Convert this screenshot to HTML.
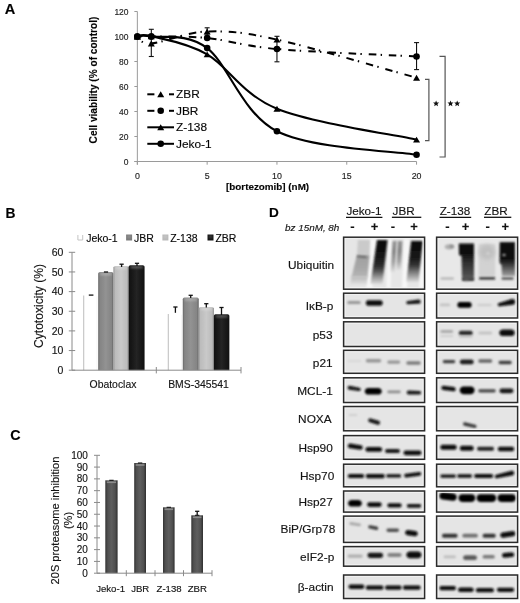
<!DOCTYPE html>
<html><head><meta charset="utf-8"><style>
html,body{margin:0;padding:0;background:#fff;}
svg{display:block;filter:grayscale(1);}
text{font-family:"Liberation Sans",sans-serif;stroke:currentColor;}
text{stroke:#222;stroke-width:0.15px;}
</style></head><body>
<svg width="520" height="603" viewBox="0 0 520 603" font-family="Liberation Sans, sans-serif">
<rect x="0" y="0" width="520" height="603" fill="#fff"/>
<text x="4.8" y="14.3" font-size="14.6" text-anchor="start" font-weight="bold" fill="#000" >A</text>
<g stroke="#9a9a9a" stroke-width="1" fill="none">
<line x1="137.35" y1="11.5" x2="137.35" y2="164.7"/>
<line x1="134.35" y1="161.5" x2="416.55000000000007" y2="161.5"/>
<line x1="134.35" y1="161.5" x2="137.35" y2="161.5"/>
<line x1="134.35" y1="136.5" x2="137.35" y2="136.5"/>
<line x1="134.35" y1="111.5" x2="137.35" y2="111.5"/>
<line x1="134.35" y1="86.5" x2="137.35" y2="86.5"/>
<line x1="134.35" y1="61.5" x2="137.35" y2="61.5"/>
<line x1="134.35" y1="36.5" x2="137.35" y2="36.5"/>
<line x1="134.35" y1="11.5" x2="137.35" y2="11.5"/>
<line x1="137.35" y1="161.5" x2="137.35" y2="164.7"/>
<line x1="207.15" y1="161.5" x2="207.15" y2="164.7"/>
<line x1="276.95000000000005" y1="161.5" x2="276.95000000000005" y2="164.7"/>
<line x1="346.75" y1="161.5" x2="346.75" y2="164.7"/>
<line x1="416.55000000000007" y1="161.5" x2="416.55000000000007" y2="164.7"/>
</g>
<text transform="translate(128.5,164.95) scale(0.9,1)" font-size="9.4" text-anchor="end" fill="#222" >0</text>
<text transform="translate(128.5,139.95) scale(0.9,1)" font-size="9.4" text-anchor="end" fill="#222" >20</text>
<text transform="translate(128.5,114.95) scale(0.9,1)" font-size="9.4" text-anchor="end" fill="#222" >40</text>
<text transform="translate(128.5,89.95) scale(0.9,1)" font-size="9.4" text-anchor="end" fill="#222" >60</text>
<text transform="translate(128.5,64.95) scale(0.9,1)" font-size="9.4" text-anchor="end" fill="#222" >80</text>
<text transform="translate(128.5,39.95) scale(0.9,1)" font-size="9.4" text-anchor="end" fill="#222" >100</text>
<text transform="translate(128.5,14.95) scale(0.9,1)" font-size="9.4" text-anchor="end" fill="#222" >120</text>
<text transform="translate(137.35,178.8) scale(0.93,1)" font-size="9.5" text-anchor="middle" fill="#222" >0</text>
<text transform="translate(207.15,178.8) scale(0.93,1)" font-size="9.5" text-anchor="middle" fill="#222" >5</text>
<text transform="translate(276.95000000000005,178.8) scale(0.93,1)" font-size="9.5" text-anchor="middle" fill="#222" >10</text>
<text transform="translate(346.75,178.8) scale(0.93,1)" font-size="9.5" text-anchor="middle" fill="#222" >15</text>
<text transform="translate(416.55000000000007,178.8) scale(0.93,1)" font-size="9.5" text-anchor="middle" fill="#222" >20</text>
<text x="226.0" y="189.6" font-size="9.85" text-anchor="start" font-weight="bold" fill="#000" >[bortezomib] (nM)</text>
<text transform="translate(96.6,80) rotate(-90)" x="0" y="0" font-size="10.1" font-weight="bold" text-anchor="middle">Cell viability (% of control)</text>
<g stroke="#111" stroke-width="1.1"><line x1="151.31" y1="29.3" x2="151.31" y2="56.5"/><line x1="148.81" y1="29.3" x2="153.81" y2="29.3"/><line x1="148.81" y1="56.5" x2="153.81" y2="56.5"/></g>
<g stroke="#111" stroke-width="1.1"><line x1="207.15" y1="27.8" x2="207.15" y2="35"/><line x1="204.65" y1="27.8" x2="209.65" y2="27.8"/><line x1="204.65" y1="35" x2="209.65" y2="35"/></g>
<g stroke="#111" stroke-width="1.1"><line x1="276.95000000000005" y1="36.3" x2="276.95000000000005" y2="61.8"/><line x1="274.45000000000005" y1="36.3" x2="279.45000000000005" y2="36.3"/><line x1="274.45000000000005" y1="61.8" x2="279.45000000000005" y2="61.8"/></g>
<g stroke="#111" stroke-width="1.1"><line x1="416.55000000000007" y1="42.6" x2="416.55000000000007" y2="69.6"/><line x1="414.05000000000007" y1="42.6" x2="419.05000000000007" y2="42.6"/><line x1="414.05000000000007" y1="69.6" x2="419.05000000000007" y2="69.6"/></g>
<path d="M137.35,36.50 C139.68,36.50 139.68,36.25 151.31,36.50 C162.94,36.75 186.21,35.92 207.15,38.00 C228.09,40.08 242.05,45.92 276.95,49.00 C311.85,52.08 393.28,55.25 416.55,56.50" fill="none" stroke="#000" stroke-width="2" stroke-dasharray="7.5,4.2,1.4,7.0" stroke-dashoffset="8.8"/>
<path d="M137.35,36.50 C139.68,37.67 139.68,44.33 151.31,43.50 C162.94,42.67 186.21,32.15 207.15,31.50 C228.09,30.85 242.05,31.92 276.95,39.62 C311.85,47.33 393.28,71.40 416.55,77.75" fill="none" stroke="#000" stroke-width="2" stroke-dasharray="7.5,4.2,1.4,7.0" stroke-dashoffset="4.9"/>
<path d="M137.35,36.50 C139.68,36.50 139.68,34.56 151.31,36.50 C162.94,38.44 186.21,32.33 207.15,48.12 C228.09,63.92 242.05,113.48 276.95,131.25 C311.85,149.02 393.28,150.83 416.55,154.75" fill="none" stroke="#000" stroke-width="2.1"/>
<path d="M137.35,36.50 C139.68,36.46 139.68,33.27 151.31,36.25 C162.94,39.23 186.21,42.29 207.15,54.38 C228.09,66.46 242.05,94.54 276.95,108.75 C311.85,122.96 393.28,134.48 416.55,139.62" fill="none" stroke="#000" stroke-width="2.1"/>
<circle cx="137.35" cy="36.50" r="3.3" fill="#000"/>
<circle cx="151.31" cy="36.50" r="3.3" fill="#000"/>
<circle cx="207.15" cy="48.12" r="3.3" fill="#000"/>
<circle cx="276.95" cy="131.25" r="3.3" fill="#000"/>
<circle cx="416.55" cy="154.75" r="3.3" fill="#000"/>
<circle cx="137.35" cy="36.50" r="3.3" fill="#000"/>
<circle cx="151.31" cy="36.50" r="3.3" fill="#000"/>
<circle cx="207.15" cy="38.00" r="3.3" fill="#000"/>
<circle cx="276.95" cy="49.00" r="3.3" fill="#000"/>
<circle cx="416.55" cy="56.50" r="3.3" fill="#000"/>
<path d="M133.85,39.48 L140.85,39.48 L137.35,33.52 Z" fill="#000"/>
<path d="M147.81,39.23 L154.81,39.23 L151.31,33.27 Z" fill="#000"/>
<path d="M203.65,57.35 L210.65,57.35 L207.15,51.40 Z" fill="#000"/>
<path d="M273.45,111.72 L280.45,111.72 L276.95,105.78 Z" fill="#000"/>
<path d="M413.05,142.60 L420.05,142.60 L416.55,136.65 Z" fill="#000"/>
<path d="M133.85,39.48 L140.85,39.48 L137.35,33.52 Z" fill="#000"/>
<path d="M147.81,46.48 L154.81,46.48 L151.31,40.52 Z" fill="#000"/>
<path d="M203.65,34.48 L210.65,34.48 L207.15,28.52 Z" fill="#000"/>
<path d="M273.45,42.60 L280.45,42.60 L276.95,36.65 Z" fill="#000"/>
<path d="M413.05,80.72 L420.05,80.72 L416.55,74.78 Z" fill="#000"/>
<line x1="147.3" y1="94.3" x2="154.4" y2="94.3" stroke="#000" stroke-width="2"/>
<line x1="169.0" y1="94.3" x2="174.0" y2="94.3" stroke="#000" stroke-width="2"/>
<path d="M157.20,97.27 L164.20,97.27 L160.70,91.33 Z" fill="#000"/>
<text transform="translate(176.0,98.3) scale(1.05,1)" font-size="11.3" text-anchor="start" fill="#000" >ZBR</text>
<line x1="147.3" y1="110.8" x2="154.4" y2="110.8" stroke="#000" stroke-width="2"/>
<line x1="169.0" y1="110.8" x2="174.0" y2="110.8" stroke="#000" stroke-width="2"/>
<circle cx="160.70" cy="110.80" r="3.3" fill="#000"/>
<text transform="translate(176.0,114.8) scale(1.05,1)" font-size="11.3" text-anchor="start" fill="#000" >JBR</text>
<line x1="147.3" y1="127.3" x2="174.0" y2="127.3" stroke="#000" stroke-width="2"/>
<path d="M157.20,130.28 L164.20,130.28 L160.70,124.33 Z" fill="#000"/>
<text transform="translate(176.0,131.3) scale(1.05,1)" font-size="11.3" text-anchor="start" fill="#000" >Z-138</text>
<line x1="147.3" y1="143.8" x2="174.0" y2="143.8" stroke="#000" stroke-width="2"/>
<circle cx="160.70" cy="143.80" r="3.3" fill="#000"/>
<text transform="translate(176.0,147.8) scale(1.05,1)" font-size="11.3" text-anchor="start" fill="#000" >Jeko-1</text>
<g stroke="#555" stroke-width="1.2" fill="none">
<path d="M425.0,79.4 H428.9 V140.6 H425.0"/>
<path d="M439.5,56.4 H445.1 V157.0 H439.5"/>
</g>
<polygon points="436.10,100.40 436.95,102.43 439.14,102.61 437.48,104.05 437.98,106.19 436.10,105.05 434.22,106.19 434.72,104.05 433.06,102.61 435.25,102.43" fill="#111"/>
<polygon points="450.50,100.40 451.35,102.43 453.54,102.61 451.88,104.05 452.38,106.19 450.50,105.05 448.62,106.19 449.12,104.05 447.46,102.61 449.65,102.43" fill="#111"/>
<polygon points="457.20,100.40 458.05,102.43 460.24,102.61 458.58,104.05 459.08,106.19 457.20,105.05 455.32,106.19 455.82,104.05 454.16,102.61 456.35,102.43" fill="#111"/>
<text x="5.6" y="217.6" font-size="13.8" text-anchor="start" font-weight="bold" fill="#000" >B</text>
<path d="M77.9,235 V240 H82.7 V235" fill="none" stroke="#c4c4c4" stroke-width="1"/>
<text x="86.2" y="241.5" font-size="10.5" text-anchor="start" fill="#000" >Jeko-1</text>
<rect x="126.1" y="234.5" width="6" height="6" fill="#7c7c7c"/>
<rect x="127.6" y="235.8" width="3" height="1.6" fill="#fff" opacity="0.3" filter="url(#bl)"/>
<text x="134.0" y="241.5" font-size="10.5" text-anchor="start" fill="#000" >JBR</text>
<rect x="162.4" y="234.5" width="6" height="6" fill="#bababa"/>
<rect x="163.9" y="235.8" width="3" height="1.6" fill="#fff" opacity="0.3" filter="url(#bl)"/>
<text x="170.2" y="241.5" font-size="10.5" text-anchor="start" fill="#000" >Z-138</text>
<rect x="207.5" y="234.5" width="6" height="6" fill="#151515"/>
<rect x="209.0" y="235.8" width="3" height="1.6" fill="#fff" opacity="0.3" filter="url(#bl)"/>
<text x="215.4" y="241.5" font-size="10.5" text-anchor="start" fill="#000" >ZBR</text>
<defs>
<linearGradient id="bg_e" x1="0" x2="1" y1="0" y2="0"><stop offset="0" stop-color="#000" stop-opacity="0.25"/><stop offset="0.12" stop-color="#000" stop-opacity="0.05"/><stop offset="0.5" stop-color="#fff" stop-opacity="0.06"/><stop offset="0.88" stop-color="#000" stop-opacity="0.05"/><stop offset="1" stop-color="#000" stop-opacity="0.3"/></linearGradient>
<linearGradient id="bg_c" x1="0" x2="1" y1="0" y2="0"><stop offset="0" stop-color="#000" stop-opacity="0.35"/><stop offset="0.15" stop-color="#000" stop-opacity="0.08"/><stop offset="0.5" stop-color="#fff" stop-opacity="0.06"/><stop offset="0.85" stop-color="#000" stop-opacity="0.08"/><stop offset="1" stop-color="#000" stop-opacity="0.4"/></linearGradient>
<filter id="bl" filterUnits="userSpaceOnUse" x="0" y="0" width="520" height="603"><feGaussianBlur stdDeviation="0.85"/></filter>
<filter id="bl2" filterUnits="userSpaceOnUse" x="0" y="0" width="520" height="603"><feGaussianBlur stdDeviation="1.3"/></filter>
<filter id="bls" filterUnits="userSpaceOnUse" x="0" y="0" width="520" height="603"><feGaussianBlur stdDeviation="1.2"/></filter>
<filter id="bl3" filterUnits="userSpaceOnUse" x="0" y="0" width="520" height="603"><feGaussianBlur stdDeviation="2.2"/></filter>
</defs>
<rect x="83.4" y="294.2" width="14.799999999999997" height="76.0" fill="#fff"/>
<line x1="83.7" y1="295.5" x2="83.7" y2="370.2" stroke="#c2c2c2" stroke-width="1.1"/>
<line x1="97.0" y1="296.2" x2="97.0" y2="370.2" stroke="#f2f2f2" stroke-width="0.8"/>
<path d="M98.2,370.2 V273.70000000000005 Q98.2,272.1 99.8,272.1 H111.80000000000001 Q113.4,272.1 113.4,273.70000000000005 V370.2 Z" fill="#8c8c8c"/>
<rect x="98.2" y="273.1" width="15.200000000000003" height="97.09999999999997" fill="url(#bg_e)"/>
<rect x="100.0" y="273.3" width="11.600000000000003" height="1.8" fill="#fff" opacity="0.35" filter="url(#bl)"/>
<path d="M113.4,370.2 V267.6 Q113.4,266.0 115.0,266.0 H127.1 Q128.7,266.0 128.7,267.6 V370.2 Z" fill="#c6c6c6"/>
<rect x="113.4" y="267.0" width="15.299999999999983" height="103.19999999999999" fill="url(#bg_e)"/>
<rect x="115.2" y="267.2" width="11.699999999999983" height="1.8" fill="#fff" opacity="0.35" filter="url(#bl)"/>
<path d="M128.7,370.2 V266.8 Q128.7,265.2 130.29999999999998,265.2 H142.9 Q144.5,265.2 144.5,266.8 V370.2 Z" fill="#161616"/>
<rect x="128.7" y="266.2" width="15.800000000000011" height="104.0" fill="url(#bg_e)"/>
<rect x="130.5" y="266.4" width="12.200000000000012" height="1.8" fill="#fff" opacity="0.35" filter="url(#bl)"/>
<rect x="168.0" y="312.8" width="14.800000000000011" height="57.39999999999998" fill="#fff"/>
<line x1="168.3" y1="314.1" x2="168.3" y2="370.2" stroke="#c2c2c2" stroke-width="1.1"/>
<line x1="181.60000000000002" y1="314.8" x2="181.60000000000002" y2="370.2" stroke="#f2f2f2" stroke-width="0.8"/>
<path d="M182.8,370.2 V299.20000000000005 Q182.8,297.6 184.4,297.6 H197.1 Q198.7,297.6 198.7,299.20000000000005 V370.2 Z" fill="#8c8c8c"/>
<rect x="182.8" y="298.6" width="15.899999999999977" height="71.59999999999997" fill="url(#bg_e)"/>
<rect x="184.60000000000002" y="298.8" width="12.299999999999978" height="1.8" fill="#fff" opacity="0.35" filter="url(#bl)"/>
<path d="M198.7,370.2 V308.5 Q198.7,306.9 200.29999999999998,306.9 H212.3 Q213.9,306.9 213.9,308.5 V370.2 Z" fill="#c6c6c6"/>
<rect x="198.7" y="307.9" width="15.200000000000017" height="62.30000000000001" fill="url(#bg_e)"/>
<rect x="200.5" y="308.09999999999997" width="11.600000000000017" height="1.8" fill="#fff" opacity="0.35" filter="url(#bl)"/>
<path d="M213.9,370.2 V315.90000000000003 Q213.9,314.3 215.5,314.3 H227.70000000000002 Q229.3,314.3 229.3,315.90000000000003 V370.2 Z" fill="#161616"/>
<rect x="213.9" y="315.3" width="15.400000000000006" height="54.89999999999998" fill="url(#bg_e)"/>
<rect x="215.70000000000002" y="315.5" width="11.800000000000006" height="1.8" fill="#fff" opacity="0.35" filter="url(#bl)"/>
<g stroke="#111" stroke-width="1.3"><line x1="91.1" y1="295.1" x2="91.1" y2="295.1"/><line x1="88.8" y1="295.1" x2="93.39999999999999" y2="295.1"/></g>
<g stroke="#111" stroke-width="1.3"><line x1="106.0" y1="272.0" x2="106.0" y2="272.0"/><line x1="103.9" y1="272.0" x2="108.1" y2="272.0"/></g>
<g stroke="#111" stroke-width="1.3"><line x1="121.6" y1="264.2" x2="121.6" y2="267"/><line x1="119.5" y1="264.2" x2="123.69999999999999" y2="264.2"/></g>
<g stroke="#111" stroke-width="1.3"><line x1="137.0" y1="263.3" x2="137.0" y2="266"/><line x1="134.9" y1="263.3" x2="139.1" y2="263.3"/></g>
<g stroke="#111" stroke-width="1.3"><line x1="175.4" y1="307.0" x2="175.4" y2="312.8"/><line x1="173.3" y1="307.0" x2="177.5" y2="307.0"/></g>
<g stroke="#111" stroke-width="1.3"><line x1="190.7" y1="295.3" x2="190.7" y2="298"/><line x1="188.6" y1="295.3" x2="192.79999999999998" y2="295.3"/></g>
<g stroke="#111" stroke-width="1.3"><line x1="206.3" y1="303.7" x2="206.3" y2="307.5"/><line x1="204.20000000000002" y1="303.7" x2="208.4" y2="303.7"/></g>
<g stroke="#111" stroke-width="1.3"><line x1="221.5" y1="307.5" x2="221.5" y2="315"/><line x1="219.4" y1="307.5" x2="223.6" y2="307.5"/></g>
<g stroke="#8a8a8a" stroke-width="1" fill="none">
<line x1="72.0" y1="252.29999999999998" x2="72.0" y2="370.2"/>
<line x1="72.0" y1="370.2" x2="241.0" y2="370.2"/>
<line x1="68.8" y1="370.2" x2="75.2" y2="370.2"/>
<line x1="68.8" y1="350.55" x2="75.2" y2="350.55"/>
<line x1="68.8" y1="330.9" x2="75.2" y2="330.9"/>
<line x1="68.8" y1="311.25" x2="75.2" y2="311.25"/>
<line x1="68.8" y1="291.59999999999997" x2="75.2" y2="291.59999999999997"/>
<line x1="68.8" y1="271.95" x2="75.2" y2="271.95"/>
<line x1="68.8" y1="252.29999999999998" x2="75.2" y2="252.29999999999998"/>
<line x1="156.3" y1="367.0" x2="156.3" y2="373.4"/>
<line x1="241.0" y1="367.0" x2="241.0" y2="373.4"/>
</g>
<text x="63.4" y="373.9" font-size="10.5" text-anchor="end" fill="#111" >0</text>
<text x="63.4" y="354.25" font-size="10.5" text-anchor="end" fill="#111" >10</text>
<text x="63.4" y="334.59999999999997" font-size="10.5" text-anchor="end" fill="#111" >20</text>
<text x="63.4" y="314.95" font-size="10.5" text-anchor="end" fill="#111" >30</text>
<text x="63.4" y="295.29999999999995" font-size="10.5" text-anchor="end" fill="#111" >40</text>
<text x="63.4" y="275.65" font-size="10.5" text-anchor="end" fill="#111" >50</text>
<text x="63.4" y="255.99999999999997" font-size="10.5" text-anchor="end" fill="#111" >60</text>
<text x="113.0" y="387.9" font-size="10.4" text-anchor="middle" fill="#111" >Obatoclax</text>
<text x="198.5" y="387.9" font-size="10.4" text-anchor="middle" fill="#111" >BMS-345541</text>
<text transform="translate(43.4,306) rotate(-90)" font-size="12.1" text-anchor="middle" fill="#111">Cytotoxicity (%)</text>
<text x="10.2" y="439.7" font-size="14.3" text-anchor="start" font-weight="bold" fill="#000" >C</text>
<defs><linearGradient id="cbar" x1="0" x2="1" y1="0" y2="0"><stop offset="0" stop-color="#333"/><stop offset="0.2" stop-color="#505050"/><stop offset="0.5" stop-color="#5e5e5e"/><stop offset="0.8" stop-color="#505050"/><stop offset="1" stop-color="#2e2e2e"/></linearGradient></defs>
<rect x="105.3" y="480.3" width="12.299999999999997" height="92.90000000000003" fill="url(#cbar)"/>
<rect x="106.8" y="481.5" width="9.299999999999997" height="1.6" fill="#9a9a9a" opacity="0.8"/>
<line x1="109.24999999999999" y1="480.3" x2="113.64999999999999" y2="480.3" stroke="#111" stroke-width="1.1"/>
<rect x="134.2" y="463.0" width="11.800000000000011" height="110.20000000000005" fill="url(#cbar)"/>
<rect x="135.7" y="464.2" width="8.800000000000011" height="1.6" fill="#9a9a9a" opacity="0.8"/>
<line x1="137.9" y1="463.0" x2="142.29999999999998" y2="463.0" stroke="#111" stroke-width="1.1"/>
<rect x="163.0" y="507.3" width="11.599999999999994" height="65.90000000000003" fill="url(#cbar)"/>
<rect x="164.5" y="508.5" width="8.599999999999994" height="1.6" fill="#9a9a9a" opacity="0.8"/>
<line x1="166.60000000000002" y1="507.3" x2="171.0" y2="507.3" stroke="#111" stroke-width="1.1"/>
<rect x="191.3" y="515.3" width="11.699999999999989" height="57.90000000000009" fill="url(#cbar)"/>
<rect x="192.8" y="516.5" width="8.699999999999989" height="1.6" fill="#9a9a9a" opacity="0.8"/>
<line x1="194.95000000000002" y1="515.3" x2="199.35" y2="515.3" stroke="#111" stroke-width="1.1"/>
<g stroke="#111" stroke-width="1.3"><line x1="197.2" y1="511.3" x2="197.2" y2="515.3"/><line x1="195.1" y1="511.3" x2="199.29999999999998" y2="511.3"/></g>
<g stroke="#8a8a8a" stroke-width="1" fill="none">
<line x1="97.0" y1="455.30000000000007" x2="97.0" y2="573.2"/>
<line x1="97.0" y1="573.2" x2="212.0" y2="573.2"/>
<line x1="94.0" y1="573.2" x2="100.0" y2="573.2"/>
<line x1="94.0" y1="561.4100000000001" x2="100.0" y2="561.4100000000001"/>
<line x1="94.0" y1="549.62" x2="100.0" y2="549.62"/>
<line x1="94.0" y1="537.83" x2="100.0" y2="537.83"/>
<line x1="94.0" y1="526.0400000000001" x2="100.0" y2="526.0400000000001"/>
<line x1="94.0" y1="514.25" x2="100.0" y2="514.25"/>
<line x1="94.0" y1="502.46000000000004" x2="100.0" y2="502.46000000000004"/>
<line x1="94.0" y1="490.6700000000001" x2="100.0" y2="490.6700000000001"/>
<line x1="94.0" y1="478.88000000000005" x2="100.0" y2="478.88000000000005"/>
<line x1="94.0" y1="467.09000000000003" x2="100.0" y2="467.09000000000003"/>
<line x1="94.0" y1="455.30000000000007" x2="100.0" y2="455.30000000000007"/>
<line x1="126.3" y1="570.2" x2="126.3" y2="576.2"/>
<line x1="155.0" y1="570.2" x2="155.0" y2="576.2"/>
<line x1="183.5" y1="570.2" x2="183.5" y2="576.2"/>
<line x1="212.0" y1="570.2" x2="212.0" y2="576.2"/>
</g>
<text x="87.9" y="576.7" font-size="10" text-anchor="end" fill="#111" >0</text>
<text x="87.9" y="564.9100000000001" font-size="10" text-anchor="end" fill="#111" >10</text>
<text x="87.9" y="553.12" font-size="10" text-anchor="end" fill="#111" >20</text>
<text x="87.9" y="541.33" font-size="10" text-anchor="end" fill="#111" >30</text>
<text x="87.9" y="529.5400000000001" font-size="10" text-anchor="end" fill="#111" >40</text>
<text x="87.9" y="517.75" font-size="10" text-anchor="end" fill="#111" >50</text>
<text x="87.9" y="505.96000000000004" font-size="10" text-anchor="end" fill="#111" >60</text>
<text x="87.9" y="494.1700000000001" font-size="10" text-anchor="end" fill="#111" >70</text>
<text x="87.9" y="482.38000000000005" font-size="10" text-anchor="end" fill="#111" >80</text>
<text x="87.9" y="470.59000000000003" font-size="10" text-anchor="end" fill="#111" >90</text>
<text x="87.9" y="458.80000000000007" font-size="10" text-anchor="end" fill="#111" >100</text>
<text x="110.6" y="591.8" font-size="9.6" text-anchor="middle" fill="#111" >Jeko-1</text>
<text x="140.2" y="591.8" font-size="9.6" text-anchor="middle" fill="#111" >JBR</text>
<text x="169.1" y="591.8" font-size="9.6" text-anchor="middle" fill="#111" >Z-138</text>
<text x="197.3" y="591.8" font-size="9.6" text-anchor="middle" fill="#111" >ZBR</text>
<text transform="translate(59.4,520.5) rotate(-90)" font-size="11.05" text-anchor="middle" fill="#111">20S proteasome inhibition</text>
<text transform="translate(72.2,520.5) rotate(-90)" font-size="11.05" text-anchor="middle" fill="#111">(%)</text>
<text x="269.0" y="217.3" font-size="13.6" text-anchor="start" font-weight="bold" fill="#000" >D</text>
<text x="346.4" y="214.9" font-size="11.7" text-anchor="start" fill="#111" >Jeko-1</text>
<line x1="346.0" y1="217.3" x2="382.4" y2="217.3" stroke="#111" stroke-width="1.3"/>
<text x="392.6" y="214.9" font-size="11.7" text-anchor="start" fill="#111" >JBR</text>
<line x1="391.9" y1="217.3" x2="421.3" y2="217.3" stroke="#111" stroke-width="1.3"/>
<text x="439.7" y="214.9" font-size="11.7" text-anchor="start" fill="#111" >Z-138</text>
<line x1="439.5" y1="217.3" x2="471.2" y2="217.3" stroke="#111" stroke-width="1.3"/>
<text x="484.3" y="214.9" font-size="11.7" text-anchor="start" fill="#111" >ZBR</text>
<line x1="484.0" y1="217.3" x2="511.3" y2="217.3" stroke="#111" stroke-width="1.3"/>
<text x="285.0" y="231.0" font-size="9.9" text-anchor="start" font-style="italic" fill="#111" >bz 15nM, 8h</text>
<text x="352.5" y="231.2" font-size="13" text-anchor="middle" font-weight="bold" fill="#111" >-</text>
<text x="374.6" y="231.2" font-size="13" text-anchor="middle" font-weight="bold" fill="#111" >+</text>
<text x="392.8" y="231.2" font-size="13" text-anchor="middle" font-weight="bold" fill="#111" >-</text>
<text x="414.0" y="231.2" font-size="13" text-anchor="middle" font-weight="bold" fill="#111" >+</text>
<text x="447.3" y="231.2" font-size="13" text-anchor="middle" font-weight="bold" fill="#111" >-</text>
<text x="465.5" y="231.2" font-size="13" text-anchor="middle" font-weight="bold" fill="#111" >+</text>
<text x="487.6" y="231.2" font-size="13" text-anchor="middle" font-weight="bold" fill="#111" >-</text>
<text x="505.3" y="231.2" font-size="13" text-anchor="middle" font-weight="bold" fill="#111" >+</text>
<rect x="343.6" y="237.2" width="81.0" height="52.0" fill="#e5e5e5"/>
<rect x="436.6" y="237.2" width="81.0" height="52.0" fill="#e5e5e5"/>
<text transform="translate(334.2,268.6) scale(1.06,1)" font-size="11.2" text-anchor="end" fill="#111" >Ubiquitin</text>
<rect x="343.6" y="293.2" width="81.0" height="24.80000000000001" fill="#e5e5e5"/>
<rect x="436.6" y="293.2" width="81.0" height="24.80000000000001" fill="#e5e5e5"/>
<text transform="translate(333.4,310.2) scale(1.06,1)" font-size="11.2" text-anchor="end" fill="#111" >I&#954;B-p</text>
<rect x="343.6" y="321.8" width="81.0" height="24.69999999999999" fill="#e5e5e5"/>
<rect x="436.6" y="321.8" width="81.0" height="24.69999999999999" fill="#e5e5e5"/>
<text transform="translate(332.5,339.1) scale(1.06,1)" font-size="11.2" text-anchor="end" fill="#111" >p53</text>
<rect x="343.6" y="350.3" width="81.0" height="23.0" fill="#e5e5e5"/>
<rect x="436.6" y="350.3" width="81.0" height="23.0" fill="#e5e5e5"/>
<text transform="translate(332.6,367.4) scale(1.06,1)" font-size="11.2" text-anchor="end" fill="#111" >p21</text>
<rect x="343.6" y="377.8" width="81.0" height="24.69999999999999" fill="#e5e5e5"/>
<rect x="436.6" y="377.8" width="81.0" height="24.69999999999999" fill="#e5e5e5"/>
<text transform="translate(332.8,394.8) scale(1.06,1)" font-size="11.2" text-anchor="end" fill="#111" >MCL-1</text>
<rect x="343.6" y="406.5" width="81.0" height="24.30000000000001" fill="#e5e5e5"/>
<rect x="436.6" y="406.5" width="81.0" height="24.30000000000001" fill="#e5e5e5"/>
<text transform="translate(331.7,422.8) scale(1.06,1)" font-size="11.2" text-anchor="end" fill="#111" >NOXA</text>
<rect x="343.6" y="435.6" width="81.0" height="23.69999999999999" fill="#e5e5e5"/>
<rect x="436.6" y="435.6" width="81.0" height="23.69999999999999" fill="#e5e5e5"/>
<text transform="translate(332.8,451.8) scale(1.06,1)" font-size="11.2" text-anchor="end" fill="#111" >Hsp90</text>
<rect x="343.6" y="464.2" width="81.0" height="22.600000000000023" fill="#e5e5e5"/>
<rect x="436.6" y="464.2" width="81.0" height="22.600000000000023" fill="#e5e5e5"/>
<text transform="translate(334.25,479.9) scale(1.06,1)" font-size="11.2" text-anchor="end" fill="#111" >Hsp70</text>
<rect x="343.6" y="491.0" width="81.0" height="21.100000000000023" fill="#e5e5e5"/>
<rect x="436.6" y="491.0" width="81.0" height="21.100000000000023" fill="#e5e5e5"/>
<text transform="translate(332.8,505.7) scale(1.06,1)" font-size="11.2" text-anchor="end" fill="#111" >Hsp27</text>
<rect x="343.6" y="516.1" width="81.0" height="26.299999999999955" fill="#e5e5e5"/>
<rect x="436.6" y="516.1" width="81.0" height="26.299999999999955" fill="#e5e5e5"/>
<text transform="translate(335.25,533.0) scale(1.06,1)" font-size="11.2" text-anchor="end" fill="#111" >BiP/Grp78</text>
<rect x="343.6" y="546.6" width="81.0" height="19.600000000000023" fill="#e5e5e5"/>
<rect x="436.6" y="546.6" width="81.0" height="19.600000000000023" fill="#e5e5e5"/>
<text transform="translate(334.25,560.5) scale(1.06,1)" font-size="11.2" text-anchor="end" fill="#111" >eIF2-p</text>
<rect x="343.6" y="575.0" width="81.0" height="23.5" fill="#e5e5e5"/>
<rect x="436.6" y="575.0" width="81.0" height="23.5" fill="#e5e5e5"/>
<text transform="translate(333.6,590.9) scale(1.06,1)" font-size="11.2" text-anchor="end" fill="#111" >&#946;-actin</text>
<polygon points="348.82,304.12 348.43,304.07 348.06,303.92 347.75,303.68 347.50,303.36 347.35,302.99 347.30,302.60 347.35,302.21 347.50,301.84 347.75,301.52 348.06,301.28 348.43,301.13 348.82,301.08 359.18,301.08 359.57,301.13 359.94,301.28 360.25,301.52 360.50,301.84 360.65,302.21 360.70,302.60 360.65,302.99 360.50,303.36 360.25,303.68 359.94,303.92 359.57,304.07 359.18,304.12" fill="rgb(150,150,150)" filter="url(#bl)"/>
<polygon points="368.57,305.77 367.86,305.68 367.19,305.40 366.61,304.96 366.17,304.39 365.89,303.72 365.80,303.00 365.89,302.28 366.17,301.61 366.61,301.04 367.19,300.60 367.86,300.32 368.57,300.23 379.93,300.23 380.64,300.32 381.31,300.60 381.89,301.04 382.33,301.61 382.61,302.28 382.70,303.00 382.61,303.72 382.33,304.39 381.89,304.96 381.31,305.40 380.64,305.68 379.93,305.77" fill="rgb(10,10,10)" filter="url(#bl)"/>
<polygon points="408.09,304.29 407.66,304.28 407.25,304.15 406.89,303.92 406.59,303.60 406.39,303.22 406.30,302.80 406.32,302.37 406.45,301.96 406.68,301.59 406.99,301.30 407.37,301.10 407.79,301.01 418.37,299.55 418.93,299.57 419.46,299.74 419.94,300.04 420.32,300.46 420.58,300.95 420.70,301.50 420.68,302.06 420.51,302.60 420.21,303.07 419.80,303.45 419.30,303.71 418.75,303.83" fill="rgb(25,25,25)" filter="url(#bl)"/>
<polygon points="441.07,306.17 440.75,306.13 440.44,306.00 440.17,305.80 439.97,305.54 439.84,305.23 439.80,304.90 439.84,304.57 439.97,304.26 440.17,304.00 440.44,303.80 440.75,303.67 441.07,303.62 448.93,303.62 449.25,303.67 449.56,303.80 449.83,304.00 450.03,304.26 450.16,304.57 450.20,304.90 450.16,305.23 450.03,305.54 449.83,305.80 449.56,306.00 449.25,306.13 448.93,306.17" fill="rgb(195,195,195)" filter="url(#bl)"/>
<polygon points="460.26,307.86 459.50,307.76 458.78,307.47 458.17,306.99 457.70,306.38 457.40,305.67 457.30,304.90 457.40,304.13 457.70,303.42 458.17,302.81 458.78,302.33 459.50,302.04 460.26,301.94 468.74,301.94 469.50,302.04 470.22,302.33 470.83,302.81 471.30,303.42 471.60,304.13 471.70,304.90 471.60,305.67 471.30,306.38 470.83,306.99 470.22,307.47 469.50,307.76 468.74,307.86" fill="rgb(5,5,5)" filter="url(#bl)"/>
<polygon points="478.57,306.27 478.25,306.23 477.94,306.10 477.67,305.90 477.47,305.64 477.34,305.33 477.30,305.00 477.34,304.67 477.47,304.36 477.67,304.10 477.94,303.90 478.25,303.77 478.57,303.73 490.43,303.73 490.75,303.77 491.06,303.90 491.33,304.10 491.53,304.36 491.66,304.67 491.70,305.00 491.66,305.33 491.53,305.64 491.33,305.90 491.06,306.10 490.75,306.23 490.43,306.27" fill="rgb(205,205,205)" filter="url(#bl)"/>
<polygon points="499.91,306.36 499.45,306.39 499.00,306.31 498.58,306.12 498.22,305.82 497.96,305.44 497.80,305.00 497.76,304.54 497.84,304.08 498.04,303.66 498.34,303.31 498.72,303.04 499.16,302.89 511.75,298.99 512.50,298.92 513.25,299.06 513.93,299.38 514.51,299.87 514.94,300.49 515.20,301.20 515.26,301.95 515.13,302.70 514.81,303.38 514.32,303.96 513.70,304.40 512.99,304.65" fill="rgb(10,10,10)" filter="url(#bl)"/>
<polygon points="441.70,332.90 441.34,332.85 441.00,332.71 440.71,332.49 440.49,332.20 440.35,331.86 440.30,331.50 440.35,331.14 440.49,330.80 440.71,330.51 441.00,330.29 441.34,330.15 441.70,330.10 451.80,330.10 452.16,330.15 452.50,330.29 452.79,330.51 453.01,330.80 453.15,331.14 453.20,331.50 453.15,331.86 453.01,332.20 452.79,332.49 452.50,332.71 452.16,332.85 451.80,332.90" fill="rgb(170,170,170)" filter="url(#bl)"/>
<polygon points="441.39,337.09 441.11,337.05 440.84,336.94 440.62,336.77 440.45,336.54 440.34,336.28 440.30,336.00 440.34,335.72 440.45,335.46 440.62,335.23 440.84,335.06 441.11,334.95 441.39,334.91 452.11,334.91 452.39,334.95 452.66,335.06 452.88,335.23 453.05,335.46 453.16,335.72 453.20,336.00 453.16,336.28 453.05,336.54 452.88,336.77 452.66,336.94 452.39,337.05 452.11,337.09" fill="rgb(205,205,205)" filter="url(#bl)"/>
<polygon points="461.14,335.44 460.53,335.36 459.97,335.12 459.48,334.75 459.11,334.27 458.88,333.70 458.80,333.10 458.88,332.50 459.11,331.93 459.48,331.45 459.97,331.08 460.53,330.84 461.14,330.76 470.36,330.76 470.97,330.84 471.53,331.08 472.02,331.45 472.39,331.93 472.62,332.50 472.70,333.10 472.62,333.70 472.39,334.27 472.02,334.75 471.53,335.12 470.97,335.36 470.36,335.44" fill="rgb(40,40,40)" filter="url(#bl)"/>
<polygon points="459.89,337.59 459.61,337.55 459.34,337.44 459.12,337.27 458.95,337.04 458.84,336.78 458.80,336.50 458.84,336.22 458.95,335.96 459.12,335.73 459.34,335.56 459.61,335.45 459.89,335.41 471.61,335.41 471.89,335.45 472.16,335.56 472.38,335.73 472.55,335.96 472.66,336.22 472.70,336.50 472.66,336.78 472.55,337.04 472.38,337.27 472.16,337.44 471.89,337.55 471.61,337.59" fill="rgb(195,195,195)" filter="url(#bl)"/>
<polygon points="479.70,334.40 479.34,334.35 479.00,334.21 478.71,333.99 478.49,333.70 478.35,333.36 478.30,333.00 478.35,332.64 478.49,332.30 478.71,332.01 479.00,331.79 479.34,331.65 479.70,331.60 490.80,331.60 491.16,331.65 491.50,331.79 491.79,332.01 492.01,332.30 492.15,332.64 492.20,333.00 492.15,333.36 492.01,333.70 491.79,333.99 491.50,334.21 491.16,334.35 490.80,334.40" fill="rgb(195,195,195)" filter="url(#bl)"/>
<polygon points="502.57,336.07 501.73,335.96 500.94,335.64 500.26,335.12 499.74,334.44 499.41,333.65 499.30,332.80 499.41,331.95 499.74,331.16 500.26,330.48 500.94,329.96 501.73,329.64 502.57,329.53 511.43,329.53 512.27,329.64 513.06,329.96 513.74,330.48 514.26,331.16 514.59,331.95 514.70,332.80 514.59,333.65 514.26,334.44 513.74,335.12 513.06,335.64 512.27,335.96 511.43,336.07" fill="rgb(10,10,10)" filter="url(#bl)"/>
<polygon points="348.89,362.09 348.61,362.05 348.34,361.94 348.12,361.77 347.95,361.54 347.84,361.28 347.80,361.00 347.84,360.72 347.95,360.46 348.12,360.23 348.34,360.06 348.61,359.95 348.89,359.91 360.11,359.91 360.39,359.95 360.66,360.06 360.88,360.23 361.05,360.46 361.16,360.72 361.20,361.00 361.16,361.28 361.05,361.54 360.88,361.77 360.66,361.94 360.39,362.05 360.11,362.09" fill="rgb(215,215,215)" filter="url(#bl)"/>
<polygon points="367.51,362.41 367.07,362.35 366.66,362.18 366.30,361.91 366.03,361.56 365.86,361.14 365.80,360.70 365.86,360.26 366.03,359.84 366.30,359.49 366.66,359.22 367.07,359.05 367.51,358.99 379.49,358.99 379.93,359.05 380.34,359.22 380.70,359.49 380.97,359.84 381.14,360.26 381.20,360.70 381.14,361.14 380.97,361.56 380.70,361.91 380.34,362.18 379.93,362.35 379.49,362.41" fill="rgb(150,150,150)" filter="url(#bl)"/>
<polygon points="389.01,363.81 388.57,363.75 388.16,363.58 387.80,363.31 387.53,362.96 387.36,362.54 387.30,362.10 387.36,361.66 387.53,361.24 387.80,360.89 388.16,360.62 388.57,360.45 389.01,360.39 398.49,360.39 398.93,360.45 399.34,360.62 399.70,360.89 399.97,361.24 400.14,361.66 400.20,362.10 400.14,362.54 399.97,362.96 399.70,363.31 399.34,363.58 398.93,363.75 398.49,363.81" fill="rgb(150,150,150)" filter="url(#bl)"/>
<polygon points="408.01,364.71 407.57,364.65 407.16,364.48 406.80,364.21 406.53,363.86 406.36,363.44 406.30,363.00 406.36,362.56 406.53,362.14 406.80,361.79 407.16,361.52 407.57,361.35 408.01,361.29 418.99,361.29 419.43,361.35 419.84,361.52 420.20,361.79 420.47,362.14 420.64,362.56 420.70,363.00 420.64,363.44 420.47,363.86 420.20,364.21 419.84,364.48 419.43,364.65 418.99,364.71" fill="rgb(125,125,125)" filter="url(#bl)"/>
<polygon points="444.51,363.31 444.07,363.25 443.66,363.08 443.30,362.81 443.03,362.46 442.86,362.04 442.80,361.60 442.86,361.16 443.03,360.74 443.30,360.39 443.66,360.12 444.07,359.95 444.51,359.89 453.49,359.89 453.93,359.95 454.34,360.12 454.70,360.39 454.97,360.74 455.14,361.16 455.20,361.60 455.14,362.04 454.97,362.46 454.70,362.81 454.34,363.08 453.93,363.25 453.49,363.31" fill="rgb(60,60,60)" filter="url(#bl)"/>
<polygon points="462.14,364.24 461.53,364.16 460.97,363.92 460.48,363.55 460.11,363.07 459.88,362.50 459.80,361.90 459.88,361.30 460.11,360.73 460.48,360.25 460.97,359.88 461.53,359.64 462.14,359.56 471.36,359.56 471.97,359.64 472.53,359.88 473.02,360.25 473.39,360.73 473.62,361.30 473.70,361.90 473.62,362.50 473.39,363.07 473.02,363.55 472.53,363.92 471.97,364.16 471.36,364.24" fill="rgb(30,30,30)" filter="url(#bl)"/>
<polygon points="480.01,362.71 479.57,362.65 479.16,362.48 478.80,362.21 478.53,361.86 478.36,361.44 478.30,361.00 478.36,360.56 478.53,360.14 478.80,359.79 479.16,359.52 479.57,359.35 480.01,359.29 490.49,359.29 490.93,359.35 491.34,359.52 491.70,359.79 491.97,360.14 492.14,360.56 492.20,361.00 492.14,361.44 491.97,361.86 491.70,362.21 491.34,362.48 490.93,362.65 490.49,362.71" fill="rgb(100,100,100)" filter="url(#bl)"/>
<polygon points="500.44,364.34 499.96,364.27 499.52,364.09 499.14,363.80 498.85,363.42 498.66,362.98 498.60,362.50 498.66,362.02 498.85,361.58 499.14,361.20 499.52,360.91 499.96,360.73 500.44,360.66 509.86,360.66 510.34,360.73 510.78,360.91 511.16,361.20 511.45,361.58 511.64,362.02 511.70,362.50 511.64,362.98 511.45,363.42 511.16,363.80 510.78,364.09 510.34,364.27 509.86,364.34" fill="rgb(60,60,60)" filter="url(#bl)"/>
<polygon points="349.21,389.66 348.72,389.51 348.29,389.24 347.94,388.86 347.70,388.41 347.58,387.91 347.60,387.40 347.75,386.91 348.02,386.48 348.40,386.13 348.85,385.89 349.35,385.77 349.86,385.79 359.40,387.77 359.79,387.89 360.14,388.11 360.43,388.42 360.62,388.78 360.71,389.19 360.70,389.60 360.58,390.00 360.36,390.35 360.06,390.63 359.69,390.82 359.29,390.92 358.87,390.90" fill="rgb(20,20,20)" filter="url(#bl)"/>
<polygon points="368.07,394.57 367.23,394.46 366.44,394.14 365.76,393.62 365.24,392.94 364.91,392.15 364.80,391.30 364.91,390.45 365.24,389.66 365.76,388.98 366.44,388.46 367.23,388.14 368.07,388.03 378.43,388.03 379.27,388.14 380.06,388.46 380.74,388.98 381.26,389.66 381.59,390.45 381.70,391.30 381.59,392.15 381.26,392.94 380.74,393.62 380.06,394.14 379.27,394.46 378.43,394.57" fill="rgb(5,5,5)" filter="url(#bl)"/>
<polygon points="388.70,393.20 388.34,393.15 388.00,393.01 387.71,392.79 387.49,392.50 387.35,392.16 387.30,391.80 387.35,391.44 387.49,391.10 387.71,390.81 388.00,390.59 388.34,390.45 388.70,390.40 399.30,390.40 399.66,390.45 400.00,390.59 400.29,390.81 400.51,391.10 400.65,391.44 400.70,391.80 400.65,392.16 400.51,392.50 400.29,392.79 400.00,393.01 399.66,393.15 399.30,393.20" fill="rgb(140,140,140)" filter="url(#bl)"/>
<polygon points="408.78,394.57 408.26,394.49 407.78,394.27 407.36,393.94 407.05,393.52 406.86,393.03 406.80,392.50 406.88,391.98 407.09,391.49 407.42,391.08 407.85,390.77 408.34,390.58 408.87,390.52 419.58,391.12 420.01,391.18 420.40,391.35 420.74,391.62 421.00,391.97 421.15,392.37 421.20,392.80 421.13,393.23 420.96,393.62 420.69,393.96 420.35,394.21 419.94,394.37 419.52,394.42" fill="rgb(20,20,20)" filter="url(#bl)"/>
<polygon points="443.15,390.01 442.61,389.87 442.12,389.59 441.73,389.19 441.44,388.70 441.30,388.16 441.30,387.60 441.45,387.06 441.73,386.57 442.12,386.18 442.61,385.89 443.15,385.75 443.71,385.75 453.85,387.09 454.39,387.23 454.88,387.51 455.27,387.91 455.56,388.40 455.70,388.94 455.70,389.50 455.55,390.04 455.27,390.53 454.88,390.92 454.39,391.21 453.85,391.35 453.29,391.35" fill="rgb(15,15,15)" filter="url(#bl)"/>
<polygon points="463.70,394.20 462.69,394.07 461.75,393.68 460.94,393.06 460.32,392.25 459.93,391.31 459.80,390.30 459.93,389.29 460.32,388.35 460.94,387.54 461.75,386.92 462.69,386.53 463.70,386.40 470.60,386.40 471.61,386.53 472.55,386.92 473.36,387.54 473.98,388.35 474.37,389.29 474.50,390.30 474.37,391.31 473.98,392.25 473.36,393.06 472.55,393.68 471.61,394.07 470.60,394.20" fill="rgb(5,5,5)" filter="url(#bl)"/>
<polygon points="479.89,392.39 479.48,392.33 479.09,392.17 478.76,391.92 478.51,391.59 478.35,391.21 478.30,390.80 478.35,390.39 478.51,390.01 478.76,389.68 479.09,389.43 479.48,389.27 479.89,389.21 494.11,389.21 494.52,389.27 494.91,389.43 495.24,389.68 495.49,390.01 495.65,390.39 495.70,390.80 495.65,391.21 495.49,391.59 495.24,391.92 494.91,392.17 494.52,392.33 494.11,392.39" fill="rgb(70,70,70)" filter="url(#bl)"/>
<polygon points="501.84,393.14 501.23,393.06 500.67,392.82 500.18,392.45 499.81,391.97 499.58,391.40 499.50,390.80 499.58,390.20 499.81,389.63 500.18,389.15 500.67,388.78 501.23,388.54 501.84,388.46 511.06,388.46 511.67,388.54 512.23,388.78 512.72,389.15 513.09,389.63 513.32,390.20 513.40,390.80 513.32,391.40 513.09,391.97 512.72,392.45 512.23,392.82 511.67,393.06 511.06,393.14" fill="rgb(20,20,20)" filter="url(#bl)"/>
<polygon points="369.64,422.33 369.16,422.11 368.75,421.77 368.45,421.34 368.26,420.85 368.21,420.32 368.30,419.80 368.52,419.32 368.86,418.91 369.29,418.61 369.78,418.42 370.31,418.37 370.83,418.46 378.66,420.87 379.14,421.09 379.55,421.43 379.85,421.86 380.04,422.35 380.09,422.88 380.00,423.40 379.78,423.88 379.44,424.29 379.01,424.59 378.52,424.78 377.99,424.83 377.47,424.74" fill="rgb(25,25,25)" filter="url(#bl)"/>
<polygon points="349.57,415.77 349.37,415.75 349.19,415.67 349.03,415.55 348.90,415.39 348.83,415.20 348.80,415.00 348.83,414.80 348.90,414.61 349.03,414.45 349.19,414.33 349.37,414.25 349.57,414.23 356.43,414.23 356.63,414.25 356.81,414.33 356.97,414.45 357.10,414.61 357.17,414.80 357.20,415.00 357.17,415.20 357.10,415.39 356.97,415.55 356.81,415.67 356.63,415.75 356.43,415.77" fill="rgb(200,200,200)" filter="url(#bl)"/>
<polygon points="464.38,425.65 463.96,425.50 463.60,425.24 463.32,424.89 463.13,424.49 463.06,424.04 463.10,423.60 463.26,423.18 463.52,422.82 463.86,422.53 464.27,422.35 464.71,422.27 465.15,422.32 475.22,424.65 475.64,424.80 476.00,425.06 476.28,425.41 476.47,425.81 476.54,426.26 476.50,426.70 476.34,427.12 476.08,427.48 475.74,427.77 475.33,427.95 474.89,428.03 474.45,427.98" fill="rgb(60,60,60)" filter="url(#bl)"/>
<polygon points="349.75,448.17 349.17,448.00 348.65,447.68 348.22,447.24 347.93,446.70 347.79,446.11 347.80,445.50 347.97,444.91 348.29,444.39 348.73,443.97 349.26,443.68 349.86,443.53 350.47,443.55 360.75,445.13 361.33,445.30 361.85,445.62 362.28,446.06 362.57,446.60 362.71,447.19 362.70,447.80 362.53,448.39 362.21,448.91 361.77,449.33 361.24,449.62 360.64,449.77 360.03,449.75" fill="rgb(15,15,15)" filter="url(#bl)"/>
<polygon points="367.74,451.74 367.13,451.66 366.57,451.42 366.08,451.05 365.71,450.57 365.48,450.00 365.40,449.40 365.48,448.80 365.71,448.23 366.08,447.75 366.57,447.38 367.13,447.14 367.74,447.06 379.86,447.06 380.47,447.14 381.03,447.38 381.52,447.75 381.89,448.23 382.12,448.80 382.20,449.40 382.12,450.00 381.89,450.57 381.52,451.05 381.03,451.42 380.47,451.66 379.86,451.74" fill="rgb(15,15,15)" filter="url(#bl)"/>
<polygon points="387.12,453.12 386.60,453.06 386.11,452.85 385.69,452.53 385.37,452.11 385.17,451.62 385.10,451.10 385.17,450.58 385.37,450.09 385.69,449.67 386.11,449.35 386.60,449.14 387.12,449.08 397.88,449.08 398.40,449.14 398.89,449.35 399.31,449.67 399.63,450.09 399.83,450.58 399.90,451.10 399.83,451.62 399.63,452.11 399.31,452.53 398.89,452.85 398.40,453.06 397.88,453.12" fill="rgb(20,20,20)" filter="url(#bl)"/>
<polygon points="405.84,455.14 405.23,455.06 404.67,454.82 404.18,454.45 403.81,453.97 403.58,453.40 403.50,452.80 403.58,452.20 403.81,451.63 404.18,451.15 404.67,450.78 405.23,450.54 405.84,450.46 419.16,450.46 419.77,450.54 420.33,450.78 420.82,451.15 421.19,451.63 421.42,452.20 421.50,452.80 421.42,453.40 421.19,453.97 420.82,454.45 420.33,454.82 419.77,455.06 419.16,455.14" fill="rgb(15,15,15)" filter="url(#bl)"/>
<polygon points="442.82,449.82 442.17,449.74 441.56,449.49 441.04,449.09 440.64,448.56 440.39,447.95 440.30,447.30 440.39,446.65 440.64,446.04 441.04,445.51 441.56,445.11 442.17,444.86 442.82,444.78 454.18,444.78 454.83,444.86 455.44,445.11 455.96,445.51 456.36,446.04 456.61,446.65 456.70,447.30 456.61,447.95 456.36,448.56 455.96,449.09 455.44,449.49 454.83,449.74 454.18,449.82" fill="rgb(10,10,10)" filter="url(#bl)"/>
<polygon points="462.32,450.82 461.67,450.74 461.06,450.49 460.54,450.09 460.14,449.56 459.89,448.95 459.80,448.30 459.89,447.65 460.14,447.04 460.54,446.51 461.06,446.11 461.67,445.86 462.32,445.78 471.18,445.78 471.83,445.86 472.44,446.11 472.96,446.51 473.36,447.04 473.61,447.65 473.70,448.30 473.61,448.95 473.36,449.56 472.96,450.09 472.44,450.49 471.83,450.74 471.18,450.82" fill="rgb(10,10,10)" filter="url(#bl)"/>
<polygon points="479.12,450.72 478.60,450.66 478.11,450.45 477.69,450.13 477.37,449.71 477.17,449.22 477.10,448.70 477.17,448.18 477.37,447.69 477.69,447.27 478.11,446.95 478.60,446.74 479.12,446.68 491.98,446.68 492.50,446.74 492.99,446.95 493.41,447.27 493.73,447.69 493.93,448.18 494.00,448.70 493.93,449.22 493.73,449.71 493.41,450.13 492.99,450.45 492.50,450.66 491.98,450.72" fill="rgb(35,35,35)" filter="url(#bl)"/>
<polygon points="500.14,451.34 499.53,451.26 498.97,451.02 498.48,450.65 498.11,450.17 497.88,449.60 497.80,449.00 497.88,448.40 498.11,447.83 498.48,447.35 498.97,446.98 499.53,446.74 500.14,446.66 511.86,446.66 512.47,446.74 513.03,446.98 513.52,447.35 513.89,447.83 514.12,448.40 514.20,449.00 514.12,449.60 513.89,450.17 513.52,450.65 513.03,451.02 512.47,451.26 511.86,451.34" fill="rgb(15,15,15)" filter="url(#bl)"/>
<polygon points="349.82,478.12 349.30,478.06 348.81,477.85 348.39,477.53 348.07,477.11 347.87,476.62 347.80,476.10 347.87,475.58 348.07,475.09 348.39,474.67 348.81,474.35 349.30,474.14 349.82,474.08 362.18,474.08 362.70,474.14 363.19,474.35 363.61,474.67 363.93,475.09 364.13,475.58 364.20,476.10 364.13,476.62 363.93,477.11 363.61,477.53 363.19,477.85 362.70,478.06 362.18,478.12" fill="rgb(15,15,15)" filter="url(#bl)"/>
<polygon points="367.95,478.25 367.39,478.18 366.88,477.96 366.43,477.62 366.09,477.18 365.87,476.66 365.80,476.10 365.87,475.54 366.09,475.03 366.43,474.58 366.88,474.24 367.39,474.02 367.95,473.95 382.65,473.95 383.21,474.02 383.73,474.24 384.17,474.58 384.51,475.03 384.73,475.54 384.80,476.10 384.73,476.66 384.51,477.18 384.17,477.62 383.73,477.96 383.21,478.18 382.65,478.25" fill="rgb(15,15,15)" filter="url(#bl)"/>
<polygon points="387.91,477.61 387.47,477.55 387.06,477.38 386.70,477.11 386.43,476.76 386.26,476.34 386.20,475.90 386.26,475.46 386.43,475.04 386.70,474.69 387.06,474.42 387.47,474.25 387.91,474.19 399.49,474.19 399.93,474.25 400.34,474.42 400.70,474.69 400.97,475.04 401.14,475.46 401.20,475.90 401.14,476.34 400.97,476.76 400.70,477.11 400.34,477.38 399.93,477.55 399.49,477.61" fill="rgb(20,20,20)" filter="url(#bl)"/>
<polygon points="406.33,477.44 405.83,477.44 405.35,477.31 404.92,477.06 404.57,476.71 404.33,476.28 404.20,475.80 404.20,475.30 404.33,474.83 404.58,474.40 404.93,474.05 405.36,473.80 405.84,473.67 419.07,471.96 419.57,471.96 420.05,472.09 420.48,472.34 420.83,472.69 421.07,473.12 421.20,473.60 421.20,474.10 421.07,474.57 420.82,475.00 420.47,475.35 420.04,475.60 419.56,475.73" fill="rgb(15,15,15)" filter="url(#bl)"/>
<polygon points="442.01,477.81 441.57,477.75 441.16,477.58 440.80,477.31 440.53,476.96 440.36,476.54 440.30,476.10 440.36,475.66 440.53,475.24 440.80,474.89 441.16,474.62 441.57,474.45 442.01,474.39 454.19,474.39 454.63,474.45 455.04,474.62 455.40,474.89 455.67,475.24 455.84,475.66 455.90,476.10 455.84,476.54 455.67,476.96 455.40,477.31 455.04,477.58 454.63,477.75 454.19,477.81" fill="rgb(15,15,15)" filter="url(#bl)"/>
<polygon points="458.91,477.71 458.47,477.65 458.06,477.48 457.70,477.21 457.43,476.86 457.26,476.44 457.20,476.00 457.26,475.56 457.43,475.14 457.70,474.79 458.06,474.52 458.47,474.35 458.91,474.29 470.29,474.29 470.73,474.35 471.14,474.52 471.50,474.79 471.77,475.14 471.94,475.56 472.00,476.00 471.94,476.44 471.77,476.86 471.50,477.21 471.14,477.48 470.73,477.65 470.29,477.71" fill="rgb(15,15,15)" filter="url(#bl)"/>
<polygon points="476.00,477.90 475.51,477.84 475.05,477.65 474.66,477.34 474.35,476.95 474.16,476.49 474.10,476.00 474.16,475.51 474.35,475.05 474.66,474.66 475.05,474.35 475.51,474.16 476.00,474.10 491.30,474.10 491.79,474.16 492.25,474.35 492.64,474.66 492.95,475.05 493.14,475.51 493.20,476.00 493.14,476.49 492.95,476.95 492.64,477.34 492.25,477.65 491.79,477.84 491.30,477.90" fill="rgb(15,15,15)" filter="url(#bl)"/>
<polygon points="496.93,478.33 496.47,478.37 496.01,478.30 495.59,478.11 495.23,477.81 494.96,477.43 494.80,477.00 494.76,476.54 494.83,476.08 495.02,475.66 495.32,475.30 495.69,475.03 496.13,474.87 511.32,470.70 511.94,470.64 512.56,470.75 513.13,471.01 513.62,471.40 513.98,471.91 514.20,472.50 514.26,473.12 514.16,473.74 513.90,474.31 513.50,474.80 512.99,475.16 512.40,475.38" fill="rgb(15,15,15)" filter="url(#bl)"/>
<polygon points="351.38,506.57 350.53,506.46 349.74,506.14 349.06,505.62 348.54,504.94 348.21,504.15 348.10,503.30 348.21,502.45 348.54,501.66 349.06,500.98 349.74,500.46 350.53,500.14 351.38,500.03 358.53,500.03 359.37,500.14 360.16,500.46 360.84,500.98 361.36,501.66 361.69,502.45 361.80,503.30 361.69,504.15 361.36,504.94 360.84,505.62 360.16,506.14 359.37,506.46 358.53,506.57" fill="rgb(5,5,5)" filter="url(#bl)"/>
<polygon points="369.44,506.94 368.83,506.86 368.27,506.62 367.78,506.25 367.41,505.77 367.18,505.20 367.10,504.60 367.18,504.00 367.41,503.43 367.78,502.95 368.27,502.58 368.83,502.34 369.44,502.26 379.36,502.26 379.97,502.34 380.53,502.58 381.02,502.95 381.39,503.43 381.62,504.00 381.70,504.60 381.62,505.20 381.39,505.77 381.02,506.25 380.53,506.62 379.97,506.86 379.36,506.94" fill="rgb(15,15,15)" filter="url(#bl)"/>
<polygon points="389.55,507.45 388.99,507.38 388.48,507.16 388.03,506.82 387.69,506.38 387.47,505.86 387.40,505.30 387.47,504.74 387.69,504.23 388.03,503.78 388.48,503.44 388.99,503.22 389.55,503.15 399.45,503.15 400.01,503.22 400.52,503.44 400.97,503.78 401.31,504.23 401.53,504.74 401.60,505.30 401.53,505.86 401.31,506.38 400.97,506.82 400.52,507.16 400.01,507.38 399.45,507.45" fill="rgb(15,15,15)" filter="url(#bl)"/>
<polygon points="408.80,507.70 408.31,507.64 407.85,507.45 407.46,507.14 407.15,506.75 406.96,506.29 406.90,505.80 406.96,505.31 407.15,504.85 407.46,504.46 407.85,504.15 408.31,503.96 408.80,503.90 419.30,503.90 419.79,503.96 420.25,504.15 420.64,504.46 420.95,504.85 421.14,505.31 421.20,505.80 421.14,506.29 420.95,506.75 420.64,507.14 420.25,507.45 419.79,507.64 419.30,507.70" fill="rgb(20,20,20)" filter="url(#bl)"/>
<polygon points="442.55,499.48 441.64,499.25 440.83,498.79 440.15,498.14 439.67,497.34 439.41,496.44 439.40,495.50 439.63,494.59 440.08,493.77 440.74,493.10 441.54,492.62 442.44,492.36 443.38,492.35 453.55,493.52 454.46,493.75 455.27,494.21 455.95,494.86 456.43,495.66 456.69,496.56 456.70,497.50 456.47,498.41 456.02,499.23 455.36,499.90 454.56,500.38 453.66,500.64 452.72,500.65" fill="rgb(5,5,5)" filter="url(#bl)"/>
<polygon points="462.40,502.00 461.39,501.87 460.45,501.48 459.64,500.86 459.02,500.05 458.63,499.11 458.50,498.10 458.63,497.09 459.02,496.15 459.64,495.34 460.45,494.72 461.39,494.33 462.40,494.20 471.40,494.20 472.41,494.33 473.35,494.72 474.16,495.34 474.78,496.15 475.17,497.09 475.30,498.10 475.17,499.11 474.78,500.05 474.16,500.86 473.35,501.48 472.41,501.87 471.40,502.00" fill="rgb(5,5,5)" filter="url(#bl)"/>
<polygon points="480.50,502.00 479.49,501.87 478.55,501.48 477.74,500.86 477.12,500.05 476.73,499.11 476.60,498.10 476.73,497.09 477.12,496.15 477.74,495.34 478.55,494.72 479.49,494.33 480.50,494.20 492.30,494.20 493.31,494.33 494.25,494.72 495.06,495.34 495.68,496.15 496.07,497.09 496.20,498.10 496.07,499.11 495.68,500.05 495.06,500.86 494.25,501.48 493.31,501.87 492.30,502.00" fill="rgb(5,5,5)" filter="url(#bl)"/>
<polygon points="501.40,502.00 500.39,501.87 499.45,501.48 498.64,500.86 498.02,500.05 497.63,499.11 497.50,498.10 497.63,497.09 498.02,496.15 498.64,495.34 499.45,494.72 500.39,494.33 501.40,494.20 512.10,494.20 513.11,494.33 514.05,494.72 514.86,495.34 515.48,496.15 515.87,497.09 516.00,498.10 515.87,499.11 515.48,500.05 514.86,500.86 514.05,501.48 513.11,501.87 512.10,502.00" fill="rgb(5,5,5)" filter="url(#bl)"/>
<polygon points="350.48,524.89 350.13,524.79 349.82,524.60 349.56,524.34 349.38,524.02 349.30,523.67 349.30,523.30 349.40,522.95 349.59,522.63 349.85,522.38 350.17,522.20 350.52,522.11 350.89,522.12 359.82,523.41 360.17,523.51 360.48,523.70 360.74,523.96 360.92,524.28 361.00,524.63 361.00,525.00 360.90,525.35 360.71,525.67 360.45,525.92 360.13,526.10 359.78,526.19 359.41,526.18" fill="rgb(170,170,170)" filter="url(#bl)"/>
<polygon points="369.64,528.62 369.22,528.47 368.85,528.22 368.55,527.89 368.36,527.48 368.27,527.05 368.30,526.60 368.44,526.18 368.69,525.81 369.03,525.51 369.43,525.32 369.87,525.23 370.32,525.26 376.86,526.58 377.28,526.73 377.65,526.98 377.95,527.31 378.14,527.72 378.23,528.15 378.20,528.60 378.06,529.02 377.81,529.39 377.47,529.69 377.07,529.88 376.63,529.97 376.18,529.94" fill="rgb(60,60,60)" filter="url(#bl)"/>
<polygon points="388.21,531.91 387.77,531.85 387.36,531.68 387.00,531.41 386.73,531.06 386.56,530.64 386.50,530.20 386.56,529.76 386.73,529.34 387.00,528.99 387.36,528.72 387.77,528.55 388.21,528.49 397.29,528.49 397.73,528.55 398.14,528.72 398.50,528.99 398.77,529.34 398.94,529.76 399.00,530.20 398.94,530.64 398.77,531.06 398.50,531.41 398.14,531.68 397.73,531.85 397.29,531.91" fill="rgb(80,80,80)" filter="url(#bl)"/>
<polygon points="407.47,535.28 406.80,535.10 406.20,534.75 405.72,534.26 405.37,533.66 405.20,532.99 405.20,532.30 405.38,531.63 405.73,531.03 406.22,530.55 406.82,530.20 407.49,530.03 408.18,530.03 415.43,531.02 416.10,531.20 416.70,531.55 417.18,532.04 417.53,532.64 417.70,533.31 417.70,534.00 417.52,534.67 417.17,535.27 416.68,535.75 416.08,536.10 415.41,536.27 414.72,536.27" fill="rgb(10,10,10)" filter="url(#bl)"/>
<polygon points="444.02,537.73 443.50,537.66 443.01,537.45 442.59,537.13 442.27,536.71 442.07,536.22 442.00,535.70 442.07,535.18 442.27,534.69 442.59,534.27 443.01,533.95 443.50,533.74 444.02,533.68 455.57,533.68 456.10,533.74 456.59,533.95 457.01,534.27 457.33,534.69 457.53,535.18 457.60,535.70 457.53,536.22 457.33,536.71 457.01,537.13 456.59,537.45 456.10,537.66 455.57,537.73" fill="rgb(50,50,50)" filter="url(#bl)"/>
<polygon points="464.14,537.54 463.66,537.47 463.22,537.29 462.84,537.00 462.55,536.62 462.36,536.18 462.30,535.70 462.36,535.22 462.55,534.78 462.84,534.40 463.22,534.11 463.66,533.93 464.14,533.86 476.06,533.86 476.54,533.93 476.98,534.11 477.36,534.40 477.65,534.78 477.84,535.22 477.90,535.70 477.84,536.18 477.65,536.62 477.36,537.00 476.98,537.29 476.54,537.47 476.06,537.54" fill="rgb(110,110,110)" filter="url(#bl)"/>
<polygon points="484.62,537.73 484.10,537.66 483.61,537.45 483.19,537.13 482.87,536.71 482.67,536.22 482.60,535.70 482.67,535.18 482.87,534.69 483.19,534.27 483.61,533.95 484.10,533.74 484.62,533.68 493.68,533.68 494.20,533.74 494.69,533.95 495.11,534.27 495.43,534.69 495.63,535.18 495.70,535.70 495.63,536.22 495.43,536.71 495.11,537.13 494.69,537.45 494.20,537.66 493.68,537.73" fill="rgb(50,50,50)" filter="url(#bl)"/>
<polygon points="503.30,537.74 502.61,537.75 501.94,537.58 501.34,537.24 500.84,536.76 500.49,536.17 500.30,535.50 500.29,534.81 500.46,534.14 500.80,533.53 501.28,533.04 501.87,532.68 502.54,532.50 512.40,531.06 513.09,531.05 513.76,531.22 514.36,531.56 514.86,532.04 515.21,532.63 515.40,533.30 515.41,533.99 515.24,534.66 514.90,535.27 514.42,535.76 513.83,536.12 513.16,536.30" fill="rgb(10,10,10)" filter="url(#bl)"/>
<polygon points="349.31,557.81 348.87,557.75 348.46,557.58 348.10,557.31 347.83,556.96 347.66,556.54 347.60,556.10 347.66,555.66 347.83,555.24 348.10,554.89 348.46,554.62 348.87,554.45 349.31,554.39 360.99,554.39 361.43,554.45 361.84,554.62 362.20,554.89 362.47,555.24 362.64,555.66 362.70,556.10 362.64,556.54 362.47,556.96 362.20,557.31 361.84,557.58 361.43,557.75 360.99,557.81" fill="rgb(175,175,175)" filter="url(#bl)"/>
<polygon points="370.15,557.95 369.46,557.86 368.82,557.59 368.28,557.17 367.86,556.62 367.59,555.99 367.50,555.30 367.59,554.61 367.86,553.97 368.28,553.43 368.82,553.01 369.46,552.74 370.15,552.65 380.45,552.65 381.14,552.74 381.77,553.01 382.32,553.43 382.74,553.97 383.01,554.61 383.10,555.30 383.01,555.99 382.74,556.62 382.32,557.17 381.77,557.59 381.14,557.86 380.45,557.95" fill="rgb(20,20,20)" filter="url(#bl)"/>
<polygon points="389.43,556.92 388.90,556.86 388.41,556.65 387.99,556.33 387.67,555.91 387.47,555.42 387.40,554.90 387.47,554.38 387.67,553.89 387.99,553.47 388.41,553.15 388.90,552.94 389.43,552.88 399.57,552.88 400.10,552.94 400.59,553.15 401.01,553.47 401.33,553.89 401.53,554.38 401.60,554.90 401.53,555.42 401.33,555.91 401.01,556.33 400.59,556.65 400.10,556.86 399.57,556.92" fill="rgb(130,130,130)" filter="url(#bl)"/>
<polygon points="409.68,558.17 408.83,558.06 408.04,557.74 407.36,557.22 406.84,556.54 406.51,555.75 406.40,554.90 406.51,554.05 406.84,553.26 407.36,552.58 408.04,552.06 408.83,551.74 409.68,551.62 418.23,551.62 419.07,551.74 419.86,552.06 420.54,552.58 421.06,553.26 421.39,554.05 421.50,554.90 421.39,555.75 421.06,556.54 420.54,557.22 419.86,557.74 419.07,558.06 418.23,558.17" fill="rgb(10,10,10)" filter="url(#bl)"/>
<polygon points="445.00,558.20 444.64,558.15 444.30,558.01 444.01,557.79 443.79,557.50 443.65,557.16 443.60,556.80 443.65,556.44 443.79,556.10 444.01,555.81 444.30,555.59 444.64,555.45 445.00,555.40 454.50,555.40 454.86,555.45 455.20,555.59 455.49,555.81 455.71,556.10 455.85,556.44 455.90,556.80 455.85,557.16 455.71,557.50 455.49,557.79 455.20,558.01 454.86,558.15 454.50,558.20" fill="rgb(190,190,190)" filter="url(#bl)"/>
<polygon points="465.44,560.04 464.83,559.96 464.27,559.72 463.78,559.35 463.41,558.87 463.18,558.30 463.10,557.70 463.18,557.10 463.41,556.53 463.78,556.05 464.27,555.68 464.83,555.44 465.44,555.36 474.66,555.36 475.27,555.44 475.83,555.68 476.32,556.05 476.69,556.53 476.92,557.10 477.00,557.70 476.92,558.30 476.69,558.87 476.32,559.35 475.83,559.72 475.27,559.96 474.66,560.04" fill="rgb(90,90,90)" filter="url(#bl)"/>
<polygon points="484.31,558.51 483.87,558.45 483.46,558.28 483.10,558.01 482.83,557.66 482.66,557.24 482.60,556.80 482.66,556.36 482.83,555.94 483.10,555.59 483.46,555.32 483.87,555.15 484.31,555.09 493.09,555.09 493.53,555.15 493.94,555.32 494.30,555.59 494.57,555.94 494.74,556.36 494.80,556.80 494.74,557.24 494.57,557.66 494.30,558.01 493.94,558.28 493.53,558.45 493.09,558.51" fill="rgb(120,120,120)" filter="url(#bl)"/>
<polygon points="504.52,557.64 503.91,557.61 503.33,557.42 502.82,557.09 502.41,556.64 502.13,556.10 502.00,555.50 502.03,554.89 502.22,554.31 502.55,553.80 503.00,553.39 503.54,553.11 504.14,552.98 511.68,552.36 512.29,552.39 512.87,552.58 513.38,552.91 513.79,553.36 514.07,553.90 514.20,554.50 514.17,555.11 513.98,555.69 513.65,556.20 513.20,556.61 512.66,556.89 512.06,557.02" fill="rgb(15,15,15)" filter="url(#bl)"/>
<polygon points="350.71,588.91 350.14,588.84 349.61,588.62 349.15,588.26 348.80,587.81 348.58,587.27 348.50,586.70 348.58,586.13 348.80,585.59 349.15,585.14 349.61,584.78 350.14,584.56 350.71,584.49 362.19,584.49 362.76,584.56 363.29,584.78 363.75,585.14 364.10,585.59 364.32,586.13 364.40,586.70 364.32,587.27 364.10,587.81 363.75,588.26 363.29,588.62 362.76,588.84 362.19,588.91" fill="rgb(10,10,10)" filter="url(#bl)"/>
<polygon points="368.01,589.81 367.44,589.74 366.91,589.52 366.45,589.16 366.10,588.71 365.88,588.17 365.80,587.60 365.88,587.03 366.10,586.49 366.45,586.04 366.91,585.68 367.44,585.46 368.01,585.39 381.29,585.39 381.86,585.46 382.39,585.68 382.85,586.04 383.20,586.49 383.42,587.03 383.50,587.60 383.42,588.17 383.20,588.71 382.85,589.16 382.39,589.52 381.86,589.74 381.29,589.81" fill="rgb(10,10,10)" filter="url(#bl)"/>
<polygon points="387.19,589.69 386.65,589.62 386.14,589.41 385.71,589.08 385.38,588.64 385.17,588.14 385.10,587.60 385.17,587.06 385.38,586.56 385.71,586.12 386.14,585.79 386.65,585.58 387.19,585.51 399.51,585.51 400.05,585.58 400.56,585.79 400.99,586.12 401.32,586.56 401.53,587.06 401.60,587.60 401.53,588.14 401.32,588.64 400.99,589.08 400.56,589.41 400.05,589.62 399.51,589.69" fill="rgb(10,10,10)" filter="url(#bl)"/>
<polygon points="404.99,589.69 404.45,589.62 403.94,589.41 403.51,589.08 403.18,588.64 402.97,588.14 402.90,587.60 402.97,587.06 403.18,586.56 403.51,586.12 403.94,585.79 404.45,585.58 404.99,585.51 418.51,585.51 419.05,585.58 419.56,585.79 419.99,586.12 420.32,586.56 420.53,587.06 420.60,587.60 420.53,588.14 420.32,588.64 419.99,589.08 419.56,589.41 419.05,589.62 418.51,589.69" fill="rgb(10,10,10)" filter="url(#bl)"/>
<polygon points="441.61,590.31 441.04,590.24 440.51,590.02 440.05,589.66 439.70,589.21 439.48,588.67 439.40,588.10 439.48,587.53 439.70,586.99 440.05,586.54 440.51,586.18 441.04,585.96 441.61,585.89 453.69,585.89 454.26,585.96 454.79,586.18 455.25,586.54 455.60,586.99 455.82,587.53 455.90,588.10 455.82,588.67 455.60,589.21 455.25,589.66 454.79,590.02 454.26,590.24 453.69,590.31" fill="rgb(10,10,10)" filter="url(#bl)"/>
<polygon points="460.21,592.01 459.64,591.94 459.11,591.72 458.65,591.36 458.30,590.91 458.08,590.37 458.00,589.80 458.08,589.23 458.30,588.69 458.65,588.24 459.11,587.88 459.64,587.66 460.21,587.59 471.49,587.59 472.06,587.66 472.59,587.88 473.05,588.24 473.40,588.69 473.62,589.23 473.70,589.80 473.62,590.37 473.40,590.91 473.05,591.36 472.59,591.72 472.06,591.94 471.49,592.01" fill="rgb(10,10,10)" filter="url(#bl)"/>
<polygon points="477.89,592.29 477.35,592.22 476.84,592.01 476.41,591.68 476.08,591.24 475.87,590.74 475.80,590.20 475.87,589.66 476.08,589.16 476.41,588.72 476.84,588.39 477.35,588.18 477.89,588.11 491.91,588.11 492.45,588.18 492.96,588.39 493.39,588.72 493.72,589.16 493.93,589.66 494.00,590.20 493.93,590.74 493.72,591.24 493.39,591.68 492.96,592.01 492.45,592.22 491.91,592.29" fill="rgb(10,10,10)" filter="url(#bl)"/>
<polygon points="498.99,591.89 498.45,591.82 497.94,591.61 497.51,591.28 497.18,590.84 496.97,590.34 496.90,589.80 496.97,589.26 497.18,588.76 497.51,588.32 497.94,587.99 498.45,587.78 498.99,587.71 512.11,587.71 512.65,587.78 513.16,587.99 513.59,588.32 513.92,588.76 514.13,589.26 514.20,589.80 514.13,590.34 513.92,590.84 513.59,591.28 513.16,591.61 512.65,591.82 512.11,591.89" fill="rgb(15,15,15)" filter="url(#bl)"/>
<defs>
<linearGradient id="u_l1b" x1="0" x2="0" y1="0" y2="1"><stop offset="0" stop-color="#8a8a8a"/><stop offset="0.15" stop-color="#a2a2a2"/><stop offset="0.6" stop-color="#a8a8a8"/><stop offset="1" stop-color="#b6b6b6"/></linearGradient>
<linearGradient id="u_l1c" x1="0" x2="0" y1="0" y2="1"><stop offset="0" stop-color="#b6b6b6"/><stop offset="1" stop-color="#e4e4e4"/></linearGradient>
<linearGradient id="u_l1" x1="0" x2="0" y1="0" y2="1"><stop offset="0" stop-color="#cacaca"/><stop offset="0.3" stop-color="#bcbcbc"/><stop offset="0.42" stop-color="#7a7a7a"/><stop offset="0.5" stop-color="#a2a2a2"/><stop offset="0.8" stop-color="#b2b2b2"/><stop offset="1" stop-color="#e2e2e2"/></linearGradient>
<linearGradient id="u_l2" x1="0" x2="0" y1="0" y2="1"><stop offset="0" stop-color="#0a0a0a"/><stop offset="0.35" stop-color="#141414"/><stop offset="0.6" stop-color="#303030"/><stop offset="0.72" stop-color="#5a5a5a"/><stop offset="0.85" stop-color="#9a9a9a"/><stop offset="1" stop-color="#dcdcdc"/></linearGradient>
<linearGradient id="u_l3" x1="0" x2="0" y1="0" y2="1"><stop offset="0" stop-color="#959595"/><stop offset="0.35" stop-color="#858585"/><stop offset="0.7" stop-color="#a4a4a4"/><stop offset="1" stop-color="#e0e0e0"/></linearGradient>
<linearGradient id="u_l4" x1="0" x2="0" y1="0" y2="1"><stop offset="0" stop-color="#0a0a0a"/><stop offset="0.4" stop-color="#161616"/><stop offset="0.6" stop-color="#383838"/><stop offset="0.75" stop-color="#777"/><stop offset="0.88" stop-color="#aaa"/><stop offset="1" stop-color="#dcdcdc"/></linearGradient>
<linearGradient id="u_r2" x1="0" x2="0" y1="0" y2="1"><stop offset="0" stop-color="#070707"/><stop offset="0.25" stop-color="#0d0d0d"/><stop offset="0.4" stop-color="#222"/><stop offset="0.6" stop-color="#363636"/><stop offset="0.85" stop-color="#4c4c4c"/><stop offset="1" stop-color="#6a6a6a"/></linearGradient>
<linearGradient id="u_r3" x1="0" x2="0" y1="0" y2="1"><stop offset="0" stop-color="#d2d2d2"/><stop offset="0.2" stop-color="#bcbcbc"/><stop offset="0.45" stop-color="#c4c4c4"/><stop offset="1" stop-color="#d6d6d6"/></linearGradient>
<linearGradient id="u_r4" x1="0" x2="0" y1="0" y2="1"><stop offset="0" stop-color="#060606"/><stop offset="0.5" stop-color="#101010"/><stop offset="0.68" stop-color="#404040"/><stop offset="1" stop-color="#a0a0a0"/></linearGradient>
<clipPath id="cl_ul"><rect x="344.3" y="237.9" width="79.6" height="50.6"/></clipPath>
<clipPath id="cl_ur"><rect x="437.3" y="237.9" width="79.6" height="50.6"/></clipPath>
</defs>
<g clip-path="url(#cl_ul)">
<rect x="344" y="237" width="81" height="52" fill="#e6e6e6"/>
<polygon points="370,239 376.5,239 372.5,288 366,288" fill="#f7f7f7" filter="url(#bl2)"/>
<polygon points="388,239 392,239 390.5,288 386.5,288" fill="#f7f7f7" filter="url(#bl2)"/>
<polygon points="404,239 409.5,239 407,288 402,288" fill="#f7f7f7" filter="url(#bl2)"/>
<polygon points="420.5,239 425,239 425,288 419,288" fill="#f7f7f7" filter="url(#bl2)"/>
<polygon points="357.8,240 370,240 369.5,255.5 357,255.5" fill="#cacaca" filter="url(#bls)"/>
<polygon points="356.8,255.5 369.5,255.5 367.5,277 351.5,277" fill="url(#u_l1b)" filter="url(#bls)"/>
<polygon points="351.5,276.5 367.5,276.5 366.5,285 350,285" fill="url(#u_l1c)" filter="url(#bls)"/>
<polygon points="377,240 387.5,240 382.5,284 370.5,284" fill="url(#u_l2)" filter="url(#bls)"/>
<polygon points="392.6,241 396.6,241 394.8,272 390.8,272" fill="url(#u_l3)" filter="url(#bls)"/>
<polygon points="397.8,241 402.4,241 400.8,270 396.3,270" fill="url(#u_l3)" filter="url(#bls)"/>
<polygon points="411.2,241 422.8,241 418.5,282 406.5,282" fill="url(#u_l4)" filter="url(#bls)"/>
</g>
<polygon points="357.73,257.06 357.53,257.02 357.34,256.92 357.19,256.78 357.07,256.61 357.01,256.41 357.00,256.20 357.04,256.00 357.14,255.81 357.28,255.66 357.46,255.54 357.66,255.48 357.86,255.47 365.77,256.14 365.97,256.18 366.16,256.28 366.31,256.42 366.43,256.59 366.49,256.79 366.50,257.00 366.46,257.20 366.36,257.39 366.22,257.54 366.04,257.66 365.84,257.72 365.64,257.73" fill="rgb(95,95,95)" filter="url(#bl)"/>
<g clip-path="url(#cl_ur)">
<rect x="437" y="237" width="81" height="52" fill="#e8e8e8"/>
<ellipse cx="449.5" cy="246.8" rx="4.8" ry="2.6" fill="#b0b0b0" filter="url(#bl2)"/>
<ellipse cx="451.5" cy="246.3" rx="2" ry="1.5" fill="#8c8c8c" filter="url(#bl)"/>
<rect x="478.7" y="244" width="16.5" height="32" fill="#d2d2d2" filter="url(#bls)"/>
<ellipse cx="487" cy="252" rx="8" ry="7.5" fill="#c0c0c0" filter="url(#bl3)"/>
<ellipse cx="488" cy="253.5" rx="1.8" ry="1.5" fill="#d2d2d2" filter="url(#bl2)"/>
<polygon points="458.8,243.6 474,243.6 474,280 462,280 461.5,256 459,255" fill="url(#u_r2)" filter="url(#bls)"/>
<ellipse cx="466.5" cy="281" rx="2.5" ry="1.3" fill="#d8d8d8" filter="url(#bls)"/>
<polygon points="499.7,242.3 515,242.3 515,276 502,276 501.5,265 499.5,263" fill="url(#u_r4)" filter="url(#bls)"/>
<ellipse cx="504" cy="255" rx="1.8" ry="1.3" fill="#9a9a9a" filter="url(#bl)"/>
</g>
<polygon points="441.40,279.40 441.17,279.37 440.95,279.28 440.76,279.14 440.62,278.95 440.53,278.73 440.50,278.50 440.53,278.27 440.62,278.05 440.76,277.86 440.95,277.72 441.17,277.63 441.40,277.60 453.10,277.60 453.33,277.63 453.55,277.72 453.74,277.86 453.88,278.05 453.97,278.27 454.00,278.50 453.97,278.73 453.88,278.95 453.74,279.14 453.55,279.28 453.33,279.37 453.10,279.40" fill="rgb(175,175,175)" filter="url(#bl)"/>
<polygon points="463.10,280.70 462.82,280.66 462.55,280.55 462.32,280.38 462.15,280.15 462.04,279.88 462.00,279.60 462.04,279.32 462.15,279.05 462.32,278.82 462.55,278.65 462.82,278.54 463.10,278.50 472.90,278.50 473.18,278.54 473.45,278.65 473.68,278.82 473.85,279.05 473.96,279.32 474.00,279.60 473.96,279.88 473.85,280.15 473.68,280.38 473.45,280.55 473.18,280.66 472.90,280.70" fill="rgb(45,45,45)" filter="url(#bl)"/>
<polygon points="480.20,279.60 479.89,279.56 479.60,279.44 479.35,279.25 479.16,279.00 479.04,278.71 479.00,278.40 479.04,278.09 479.16,277.80 479.35,277.55 479.60,277.36 479.89,277.24 480.20,277.20 494.00,277.20 494.31,277.24 494.60,277.36 494.85,277.55 495.04,277.80 495.16,278.09 495.20,278.40 495.16,278.71 495.04,279.00 494.85,279.25 494.60,279.44 494.31,279.56 494.00,279.60" fill="rgb(30,30,30)" filter="url(#bl)"/>
<polygon points="502.60,279.60 502.32,279.56 502.05,279.45 501.82,279.28 501.65,279.05 501.54,278.78 501.50,278.50 501.54,278.22 501.65,277.95 501.82,277.72 502.05,277.55 502.32,277.44 502.60,277.40 512.50,277.40 512.78,277.44 513.05,277.55 513.28,277.72 513.45,277.95 513.56,278.22 513.60,278.50 513.56,278.78 513.45,279.05 513.28,279.28 513.05,279.45 512.78,279.56 512.50,279.60" fill="rgb(50,50,50)" filter="url(#bl)"/>
<rect x="345.1" y="238.7" width="78.0" height="49.0" fill="none" stroke="#f4f4f4" stroke-width="0.9" opacity="0.9"/>
<rect x="438.1" y="238.7" width="78.0" height="49.0" fill="none" stroke="#f4f4f4" stroke-width="0.9" opacity="0.9"/>
<rect x="345.1" y="294.7" width="78.0" height="21.80000000000001" fill="none" stroke="#f4f4f4" stroke-width="0.9" opacity="0.9"/>
<rect x="438.1" y="294.7" width="78.0" height="21.80000000000001" fill="none" stroke="#f4f4f4" stroke-width="0.9" opacity="0.9"/>
<rect x="345.1" y="323.3" width="78.0" height="21.69999999999999" fill="none" stroke="#f4f4f4" stroke-width="0.9" opacity="0.9"/>
<rect x="438.1" y="323.3" width="78.0" height="21.69999999999999" fill="none" stroke="#f4f4f4" stroke-width="0.9" opacity="0.9"/>
<rect x="345.1" y="351.8" width="78.0" height="20.0" fill="none" stroke="#f4f4f4" stroke-width="0.9" opacity="0.9"/>
<rect x="438.1" y="351.8" width="78.0" height="20.0" fill="none" stroke="#f4f4f4" stroke-width="0.9" opacity="0.9"/>
<rect x="345.1" y="379.3" width="78.0" height="21.69999999999999" fill="none" stroke="#f4f4f4" stroke-width="0.9" opacity="0.9"/>
<rect x="438.1" y="379.3" width="78.0" height="21.69999999999999" fill="none" stroke="#f4f4f4" stroke-width="0.9" opacity="0.9"/>
<rect x="345.1" y="408.0" width="78.0" height="21.30000000000001" fill="none" stroke="#f4f4f4" stroke-width="0.9" opacity="0.9"/>
<rect x="438.1" y="408.0" width="78.0" height="21.30000000000001" fill="none" stroke="#f4f4f4" stroke-width="0.9" opacity="0.9"/>
<rect x="345.1" y="437.1" width="78.0" height="20.69999999999999" fill="none" stroke="#f4f4f4" stroke-width="0.9" opacity="0.9"/>
<rect x="438.1" y="437.1" width="78.0" height="20.69999999999999" fill="none" stroke="#f4f4f4" stroke-width="0.9" opacity="0.9"/>
<rect x="345.1" y="465.7" width="78.0" height="19.600000000000023" fill="none" stroke="#f4f4f4" stroke-width="0.9" opacity="0.9"/>
<rect x="438.1" y="465.7" width="78.0" height="19.600000000000023" fill="none" stroke="#f4f4f4" stroke-width="0.9" opacity="0.9"/>
<rect x="345.1" y="492.5" width="78.0" height="18.100000000000023" fill="none" stroke="#f4f4f4" stroke-width="0.9" opacity="0.9"/>
<rect x="438.1" y="492.5" width="78.0" height="18.100000000000023" fill="none" stroke="#f4f4f4" stroke-width="0.9" opacity="0.9"/>
<rect x="345.1" y="517.6" width="78.0" height="23.299999999999955" fill="none" stroke="#f4f4f4" stroke-width="0.9" opacity="0.9"/>
<rect x="438.1" y="517.6" width="78.0" height="23.299999999999955" fill="none" stroke="#f4f4f4" stroke-width="0.9" opacity="0.9"/>
<rect x="345.1" y="548.1" width="78.0" height="16.600000000000023" fill="none" stroke="#f4f4f4" stroke-width="0.9" opacity="0.9"/>
<rect x="438.1" y="548.1" width="78.0" height="16.600000000000023" fill="none" stroke="#f4f4f4" stroke-width="0.9" opacity="0.9"/>
<rect x="345.1" y="576.5" width="78.0" height="20.5" fill="none" stroke="#f4f4f4" stroke-width="0.9" opacity="0.9"/>
<rect x="438.1" y="576.5" width="78.0" height="20.5" fill="none" stroke="#f4f4f4" stroke-width="0.9" opacity="0.9"/>
<rect x="343.6" y="237.2" width="81.0" height="52.0" fill="none" stroke="#2a2a2a" stroke-width="1.5"/>
<rect x="436.6" y="237.2" width="81.0" height="52.0" fill="none" stroke="#2a2a2a" stroke-width="1.5"/>
<rect x="343.6" y="293.2" width="81.0" height="24.80000000000001" fill="none" stroke="#2a2a2a" stroke-width="1.5"/>
<rect x="436.6" y="293.2" width="81.0" height="24.80000000000001" fill="none" stroke="#2a2a2a" stroke-width="1.5"/>
<rect x="343.6" y="321.8" width="81.0" height="24.69999999999999" fill="none" stroke="#2a2a2a" stroke-width="1.5"/>
<rect x="436.6" y="321.8" width="81.0" height="24.69999999999999" fill="none" stroke="#2a2a2a" stroke-width="1.5"/>
<rect x="343.6" y="350.3" width="81.0" height="23.0" fill="none" stroke="#2a2a2a" stroke-width="1.5"/>
<rect x="436.6" y="350.3" width="81.0" height="23.0" fill="none" stroke="#2a2a2a" stroke-width="1.5"/>
<rect x="343.6" y="377.8" width="81.0" height="24.69999999999999" fill="none" stroke="#2a2a2a" stroke-width="1.5"/>
<rect x="436.6" y="377.8" width="81.0" height="24.69999999999999" fill="none" stroke="#2a2a2a" stroke-width="1.5"/>
<rect x="343.6" y="406.5" width="81.0" height="24.30000000000001" fill="none" stroke="#2a2a2a" stroke-width="1.5"/>
<rect x="436.6" y="406.5" width="81.0" height="24.30000000000001" fill="none" stroke="#2a2a2a" stroke-width="1.5"/>
<rect x="343.6" y="435.6" width="81.0" height="23.69999999999999" fill="none" stroke="#2a2a2a" stroke-width="1.5"/>
<rect x="436.6" y="435.6" width="81.0" height="23.69999999999999" fill="none" stroke="#2a2a2a" stroke-width="1.5"/>
<rect x="343.6" y="464.2" width="81.0" height="22.600000000000023" fill="none" stroke="#2a2a2a" stroke-width="1.5"/>
<rect x="436.6" y="464.2" width="81.0" height="22.600000000000023" fill="none" stroke="#2a2a2a" stroke-width="1.5"/>
<rect x="343.6" y="491.0" width="81.0" height="21.100000000000023" fill="none" stroke="#2a2a2a" stroke-width="1.5"/>
<rect x="436.6" y="491.0" width="81.0" height="21.100000000000023" fill="none" stroke="#2a2a2a" stroke-width="1.5"/>
<rect x="343.6" y="516.1" width="81.0" height="26.299999999999955" fill="none" stroke="#2a2a2a" stroke-width="1.5"/>
<rect x="436.6" y="516.1" width="81.0" height="26.299999999999955" fill="none" stroke="#2a2a2a" stroke-width="1.5"/>
<rect x="343.6" y="546.6" width="81.0" height="19.600000000000023" fill="none" stroke="#2a2a2a" stroke-width="1.5"/>
<rect x="436.6" y="546.6" width="81.0" height="19.600000000000023" fill="none" stroke="#2a2a2a" stroke-width="1.5"/>
<rect x="343.6" y="575.0" width="81.0" height="23.5" fill="none" stroke="#2a2a2a" stroke-width="1.5"/>
<rect x="436.6" y="575.0" width="81.0" height="23.5" fill="none" stroke="#2a2a2a" stroke-width="1.5"/>
</svg>
</body></html>
